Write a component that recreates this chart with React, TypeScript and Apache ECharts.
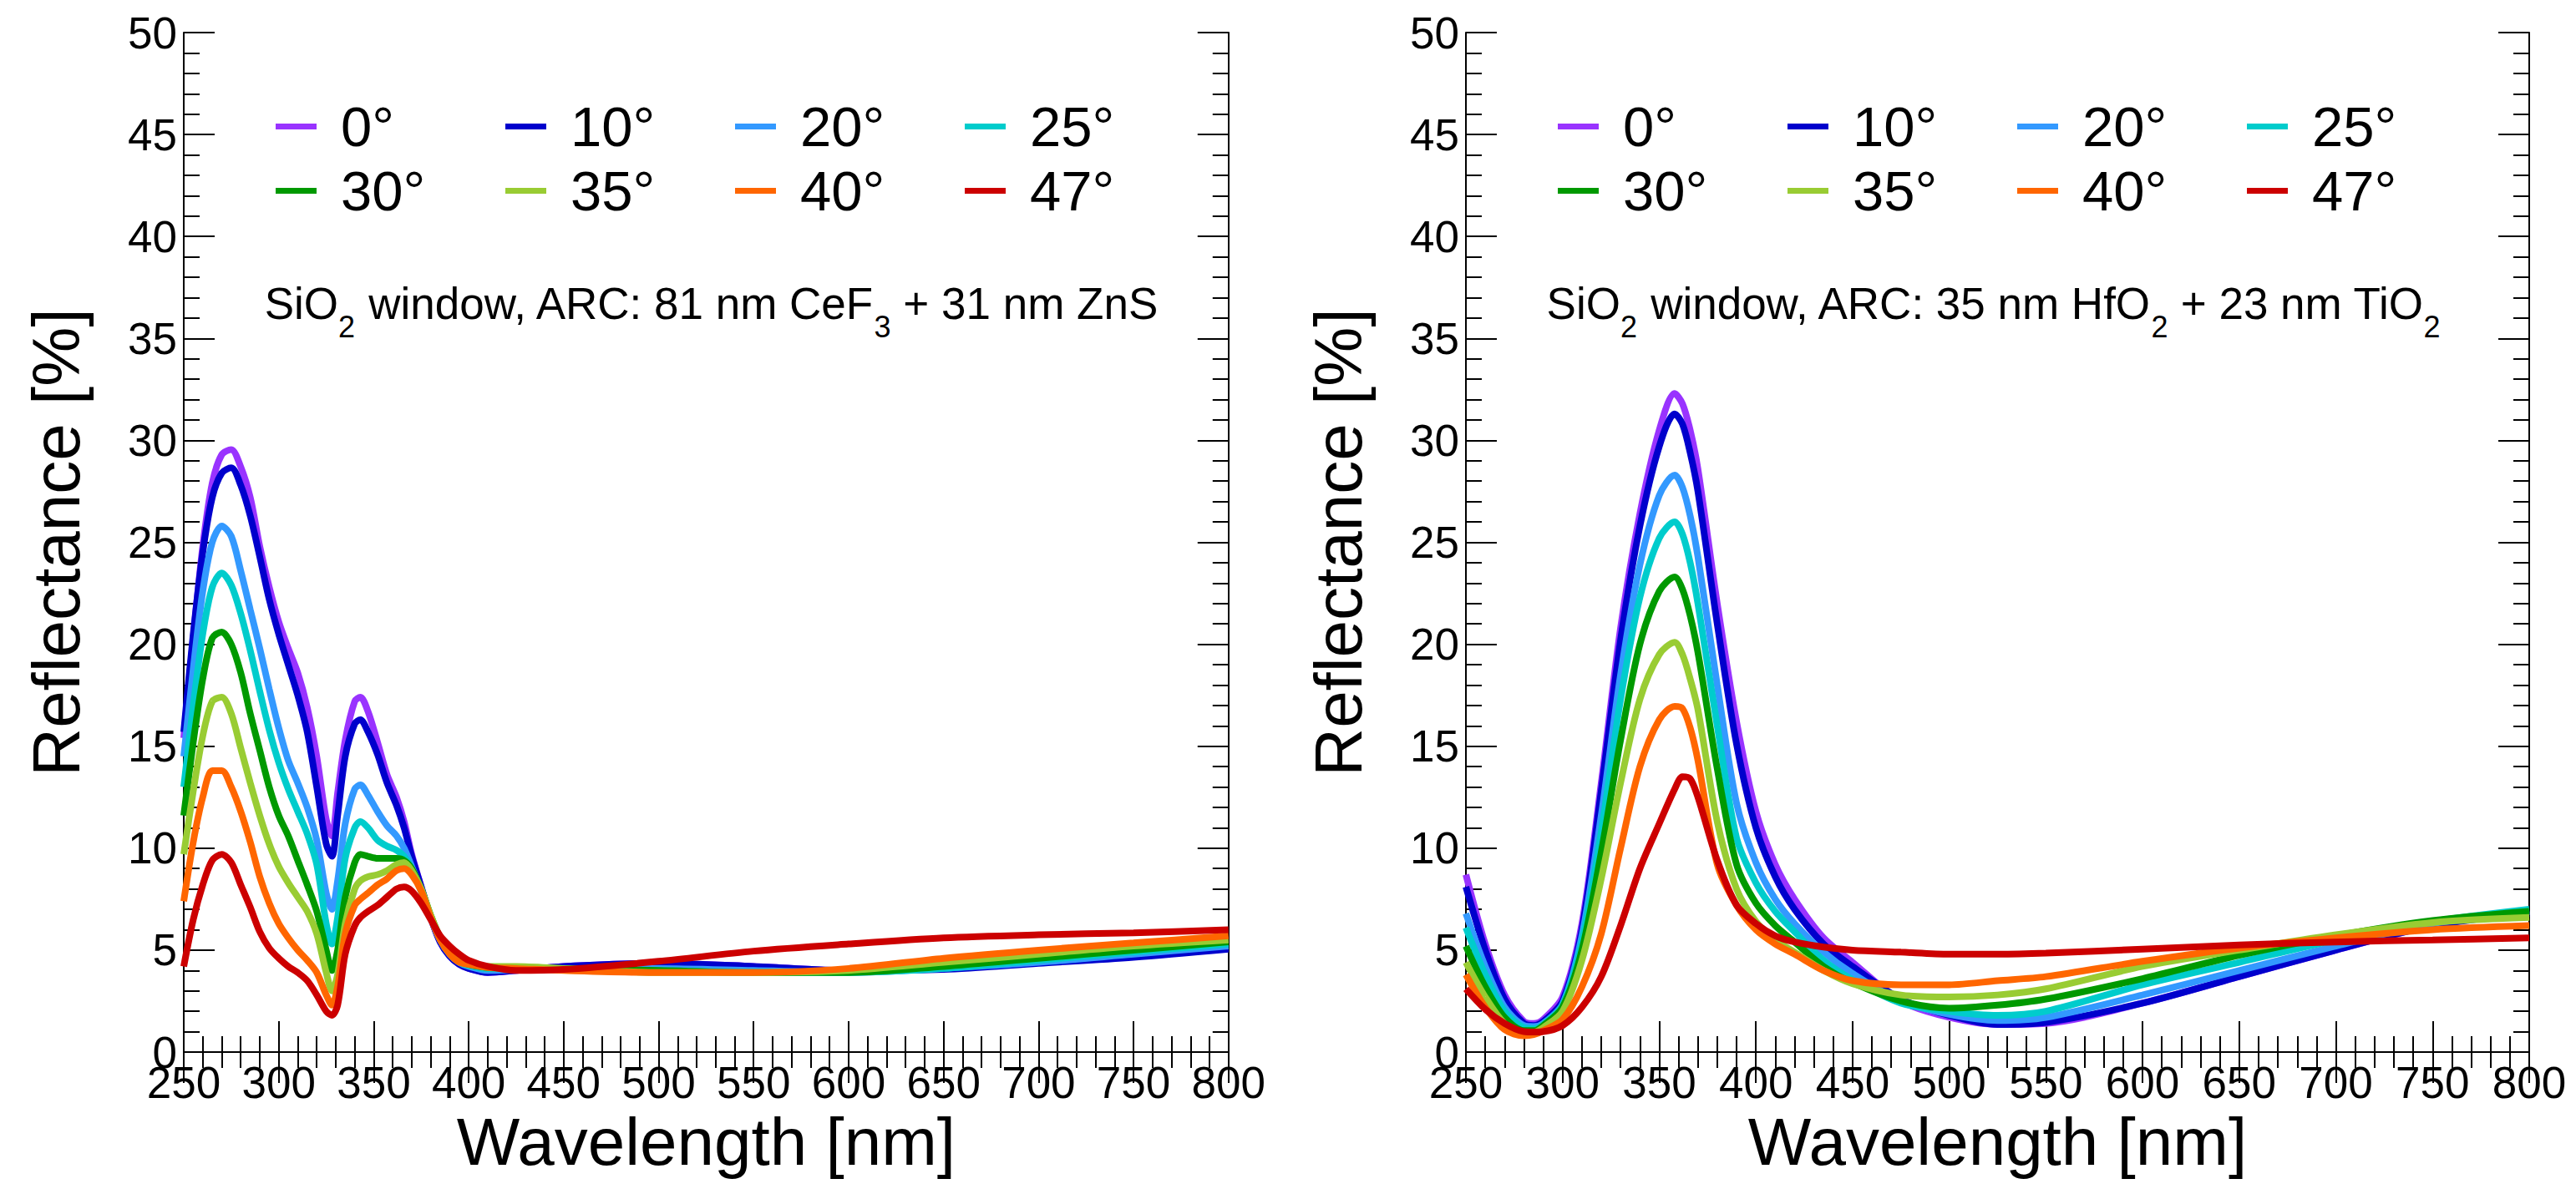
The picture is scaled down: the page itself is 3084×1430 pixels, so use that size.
import React, { useEffect, useRef } from "react";
import * as echarts from "echarts";

const ANGLES = ["0°", "10°", "20°", "25°", "30°", "35°", "40°", "47°"];
const COLORS = ["#9933ff", "#0000cc", "#3399ff", "#00cccc", "#009900", "#99cc33", "#ff6600", "#cc0000"];

// Left panel: SiO2 window, ARC 81 nm CeF3 + 31 nm ZnS
const LEFT_WL = [250, 255, 260, 265, 270, 275, 280, 285, 290, 295, 300, 305, 310, 315, 320, 325, 328, 331, 335, 340, 343, 347, 352, 357, 362, 366, 370, 375, 380, 385, 390, 395, 400, 410, 425, 450, 500, 550, 600, 650, 700, 750, 800];
const LEFT_R0 = [15.4, 20.3, 24.8, 27.9, 29.3, 29.55, 28.7, 27.2, 24.8, 22.8, 21.1, 19.8, 18.6, 16.9, 14.5, 11.4, 10.6, 12.7, 15.3, 17.2, 17.4, 16.7, 15.2, 13.6, 12.5, 11.3, 9.7, 8.1, 6.6, 5.4, 4.7, 4.3, 4.1, 3.9, 4.0, 4.2, 4.35, 4.2, 4.0, 4.1, 4.4, 4.7, 5.1];
const LEFT_R10 = [15.7, 20.5, 24.5, 27.2, 28.4, 28.65, 27.8, 26.3, 24.3, 22.2, 20.5, 19.0, 17.5, 15.7, 13.0, 10.2, 9.6, 11.6, 14.5, 16.1, 16.3, 15.7, 14.6, 13.2, 12.1, 11.0, 9.6, 8.1, 6.6, 5.4, 4.7, 4.3, 4.1, 3.9, 4.0, 4.2, 4.35, 4.2, 4.0, 4.05, 4.35, 4.65, 5.05];
const LEFT_R20 = [14.5, 18.8, 22.6, 25.0, 25.8, 25.3, 23.6, 21.7, 19.8, 17.8, 15.9, 14.3, 13.2, 12.0, 10.4, 7.8, 7.0, 8.4, 11.2, 12.9, 13.1, 12.6, 11.8, 11.1, 10.6, 10.0, 9.1, 7.9, 6.6, 5.5, 4.8, 4.4, 4.2, 4.0, 4.05, 4.1, 4.1, 4.0, 3.9, 4.1, 4.4, 4.8, 5.2];
const LEFT_R25 = [13.0, 17.0, 20.5, 22.8, 23.5, 22.9, 21.5, 19.7, 17.7, 15.8, 14.2, 12.9, 11.8, 10.7, 9.2, 6.3, 5.3, 6.6, 9.5, 11.0, 11.3, 11.0, 10.4, 10.1, 9.9, 9.6, 9.0, 7.9, 6.6, 5.5, 4.8, 4.4, 4.25, 4.1, 4.1, 4.1, 4.0, 3.9, 3.9, 4.1, 4.5, 4.9, 5.3];
const LEFT_R30 = [11.6, 15.2, 18.3, 20.3, 20.6, 20.0, 18.6, 16.6, 14.8, 13.0, 11.6, 10.6, 9.4, 8.2, 6.9, 5.0, 4.0, 5.0, 7.6, 9.3, 9.7, 9.6, 9.5, 9.5, 9.5, 9.4, 9.0, 8.0, 6.7, 5.6, 4.9, 4.5, 4.3, 4.15, 4.15, 4.1, 4.0, 3.9, 3.9, 4.2, 4.6, 5.0, 5.4];
const LEFT_R35 = [9.7, 12.8, 15.5, 17.2, 17.4, 16.6, 14.9, 13.2, 11.6, 10.2, 9.1, 8.3, 7.6, 6.9, 5.8, 3.9, 3.0, 3.8, 6.3, 8.0, 8.4, 8.6, 8.7, 8.9, 9.2, 9.3, 8.9, 8.0, 6.7, 5.6, 4.9, 4.5, 4.35, 4.2, 4.2, 4.1, 3.9, 3.9, 4.0, 4.4, 4.8, 5.2, 5.5];
const LEFT_R40 = [7.4, 10.3, 12.5, 13.8, 13.8, 13.0, 11.8, 10.3, 8.6, 7.3, 6.3, 5.6, 5.0, 4.5, 3.9, 2.8, 2.3, 3.2, 5.8, 7.2, 7.5, 7.8, 8.2, 8.5, 8.9, 9.0, 8.7, 7.9, 6.6, 5.5, 4.8, 4.4, 4.3, 4.15, 4.1, 4.0, 3.9, 3.9, 4.1, 4.6, 5.0, 5.35, 5.7];
const LEFT_R47 = [4.2, 6.5, 8.2, 9.4, 9.7, 9.3, 8.2, 7.1, 5.9, 5.1, 4.6, 4.2, 3.9, 3.5, 2.8, 2.0, 1.8, 2.3, 4.8, 6.2, 6.6, 6.9, 7.2, 7.6, 8.0, 8.1, 7.9, 7.3, 6.5, 5.7, 5.2, 4.8, 4.5, 4.2, 4.0, 4.05, 4.45, 4.95, 5.3, 5.6, 5.75, 5.85, 6.0];

// Right panel: SiO2 window, ARC 35 nm HfO2 + 23 nm TiO2
const RIGHT_WL = [250, 260, 270, 280, 285, 290, 300, 310, 320, 330, 340, 350, 358, 362, 366, 370, 380, 390, 400, 410, 420, 435, 450, 475, 500, 525, 550, 600, 650, 700, 750, 800];
const RIGHT_R0 = [8.7, 5.3, 2.8, 1.5, 1.4, 1.6, 2.7, 6.3, 13.2, 20.8, 26.4, 30.5, 32.3, 31.8, 30.5, 28.6, 22.0, 16.2, 11.8, 9.2, 7.5, 5.6, 4.4, 2.5, 1.7, 1.35, 1.4, 2.4, 3.7, 5.0, 6.2, 6.9];
const RIGHT_R10 = [8.1, 5.0, 2.6, 1.4, 1.3, 1.5, 2.5, 6.0, 12.8, 20.2, 25.8, 29.7, 31.3, 30.8, 29.4, 27.5, 21.0, 15.1, 11.0, 8.6, 7.0, 5.3, 4.2, 2.6, 1.8, 1.35, 1.45, 2.4, 3.7, 5.0, 6.2, 6.8];
const RIGHT_R20 = [6.8, 4.2, 2.2, 1.3, 1.25, 1.4, 2.35, 5.7, 11.6, 18.5, 23.9, 27.3, 28.3, 27.7, 26.3, 24.3, 18.0, 12.2, 9.3, 7.5, 6.3, 4.9, 3.85, 2.5, 1.85, 1.55, 1.7, 2.8, 4.0, 5.2, 6.3, 6.9];
const RIGHT_R25 = [6.1, 3.8, 2.0, 1.2, 1.15, 1.35, 2.3, 5.4, 10.8, 17.3, 22.3, 25.2, 26.0, 25.4, 24.0, 22.0, 16.0, 10.5, 8.3, 6.9, 5.9, 4.5, 3.55, 2.4, 2.0, 1.8, 2.0, 3.3, 4.4, 5.5, 6.4, 7.0];
const RIGHT_R30 = [5.2, 3.2, 1.7, 1.05, 1.05, 1.3, 2.2, 5.0, 9.8, 15.3, 20.0, 22.6, 23.3, 22.7, 21.4, 19.6, 13.9, 9.2, 7.3, 6.2, 5.4, 4.2, 3.4, 2.5, 2.15, 2.3, 2.6, 3.6, 4.75, 5.7, 6.45, 6.9];
const RIGHT_R35 = [4.4, 2.7, 1.4, 0.9, 0.95, 1.2, 2.0, 4.5, 8.5, 13.2, 17.3, 19.5, 20.1, 19.5, 18.3, 16.8, 11.3, 8.0, 6.4, 5.5, 4.9, 4.0, 3.35, 2.8, 2.7, 2.8, 3.1, 4.2, 5.0, 5.75, 6.35, 6.6];
const RIGHT_R40 = [3.8, 2.2, 1.1, 0.8, 0.85, 1.05, 1.6, 3.2, 5.8, 10.0, 14.0, 16.3, 16.95, 16.85, 15.9, 14.3, 9.2, 7.2, 6.0, 5.3, 4.8, 4.0, 3.5, 3.3, 3.3, 3.5, 3.7, 4.45, 5.1, 5.6, 6.0, 6.2];
const RIGHT_R47 = [3.1, 2.1, 1.4, 1.0, 0.98, 1.0, 1.3, 2.2, 3.7, 6.2, 9.0, 11.2, 12.9, 13.5, 13.4, 12.5, 9.4, 7.2, 6.3, 5.7, 5.4, 5.15, 5.0, 4.9, 4.8, 4.8, 4.85, 5.05, 5.25, 5.4, 5.5, 5.6];

const LEFT_SERIES = [LEFT_R0, LEFT_R10, LEFT_R20, LEFT_R25, LEFT_R30, LEFT_R35, LEFT_R40, LEFT_R47];
const RIGHT_SERIES = [RIGHT_R0, RIGHT_R10, RIGHT_R20, RIGHT_R25, RIGHT_R30, RIGHT_R35, RIGHT_R40, RIGHT_R47];

const LEFT_NOTE = "{a|SiO}{b|2}{a| window, ARC: 81 nm CeF}{b|3}{a| + 31 nm ZnS}";
const RIGHT_NOTE = "{a|SiO}{b|2}{a| window, ARC: 35 nm HfO}{b|2}{a| + 23 nm TiO}{b|2}";

const FONT = "'Liberation Sans', Arial, Helvetica, sans-serif";
const X_MIN = 250, X_MAX = 800, X_STEP = 50;
const Y_MIN = 0, Y_MAX = 50, Y_STEP = 5;

const PLOT_W = 1273;
const PLOT_H = 1221;
const PLOT_TOP = 39;

function axisCommon(showLabel: boolean) {
  return {
    axisLine: { show: true, lineStyle: { color: "#000", width: 2 } },
    axisTick: { show: true, inside: true, length: 37, lineStyle: { color: "#000", width: 2 } },
    minorTick: { show: true, splitNumber: 5, length: 19, lineStyle: { color: "#000", width: 2 } },
    splitLine: { show: false },
    minorSplitLine: { show: false },
    axisLabel: { show: showLabel, color: "#000", fontSize: 53, fontFamily: FONT },
  };
}

function buildOption(wl: number[], series: number[][], gridLeft: number, note: string) {
  const cx = gridLeft + PLOT_W / 2 - 5;
  return {
    animation: false,
    backgroundColor: "#fff",
    grid: { left: gridLeft, top: PLOT_TOP, width: PLOT_W, height: PLOT_H, containLabel: false },
    legend: {
      left: gridLeft + 105,
      top: 113,
      width: 1150,
      orient: "horizontal",
      icon: "rect",
      itemWidth: 49,
      itemHeight: 7,
      itemGap: 10,
      data: ANGLES,
      textStyle: {
        color: "#000",
        fontSize: 67,
        lineHeight: 67,
        fontFamily: FONT,
        width: 187,
        padding: [0, 0, 0, 24],
      },
    },
    xAxis: [
      {
        type: "value",
        position: "bottom",
        min: X_MIN,
        max: X_MAX,
        interval: X_STEP,
        ...axisCommon(true),
        axisLabel: { show: true, color: "#000", fontSize: 53, fontFamily: FONT, margin: 10 },
        name: "Wavelength [nm]",
        nameLocation: "middle",
        nameGap: 67,
        nameTextStyle: { color: "#000", fontSize: 80, fontFamily: FONT },
      },
      {
        type: "value",
        position: "top",
        min: X_MIN,
        max: X_MAX,
        interval: X_STEP,
        ...axisCommon(false),
      },
    ],
    yAxis: [
      {
        type: "value",
        position: "left",
        min: Y_MIN,
        max: Y_MAX,
        interval: Y_STEP,
        ...axisCommon(true),
        axisLabel: { show: true, color: "#000", fontSize: 53, fontFamily: FONT, margin: 8 },
        name: "Reflectance [%]",
        nameLocation: "middle",
        nameGap: 113,
        nameTextStyle: { color: "#000", fontSize: 80, fontFamily: FONT },
      },
      {
        type: "value",
        position: "right",
        min: Y_MIN,
        max: Y_MAX,
        interval: Y_STEP,
        ...axisCommon(false),
      },
    ],
    graphic: [
      {
        type: "text",
        x: cx,
        y: 337,
        silent: true,
        style: {
          text: note,
          align: "center",
          verticalAlign: "top",
          fill: "#000",
          rich: {
            a: { fontSize: 53, lineHeight: 60, verticalAlign: "top", fontFamily: FONT, fill: "#000" },
            b: { fontSize: 36, lineHeight: 36, verticalAlign: "top", padding: [36, 0, 0, 0], fontFamily: FONT, fill: "#000" },
          },
        },
      },
    ],
    series: series.map((vals, i) => ({
      name: ANGLES[i],
      type: "line",
      xAxisIndex: 0,
      yAxisIndex: 0,
      showSymbol: false,
      symbol: "none",
      smooth: 0.3,
      color: COLORS[i],
      lineStyle: { color: COLORS[i], width: 8 },
      data: wl.map((w, k) => [w, vals[k]]),
    })),
  };
}

function Panel(props: { left: number; width: number; gridLeft: number; wl: number[]; series: number[][]; note: string }) {
  const ref = useRef<HTMLDivElement>(null);
  useEffect(() => {
    if (!ref.current) return;
    const chart = echarts.init(ref.current, undefined, { renderer: "svg" });
    chart.setOption(buildOption(props.wl, props.series, props.gridLeft, props.note) as any);
    return () => chart.dispose();
  }, []);
  return (
    <div
      ref={ref}
      style={{ position: "absolute", left: props.left, top: 0, width: props.width, height: 1430, overflow: "hidden" }}
    />
  );
}

export default function App() {
  useEffect(() => {
    document.body.style.margin = "0";
    document.body.style.background = "#fff";
  }, []);
  return (
    <div style={{ position: "relative", width: 3084, height: 1430, background: "#fff", overflow: "hidden" }}>
      <Panel left={0} width={1518} gridLeft={220} wl={LEFT_WL} series={LEFT_SERIES} note={LEFT_NOTE} />
      <Panel left={1518} width={1566} gridLeft={237} wl={RIGHT_WL} series={RIGHT_SERIES} note={RIGHT_NOTE} />
    </div>
  );
}
